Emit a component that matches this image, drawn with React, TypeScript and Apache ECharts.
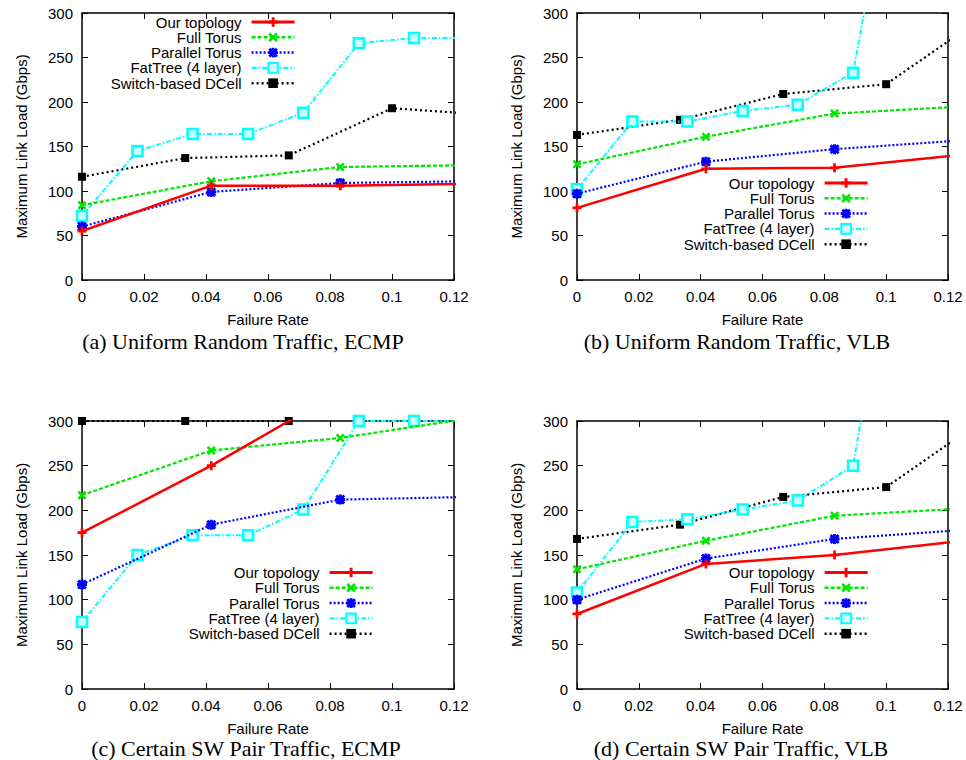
import React, { useEffect, useRef } from 'react';
import * as echarts from 'echarts';

const seriesNames = ['Our topology', 'Full Torus', 'Parallel Torus', 'FatTree (4 layer)', 'Switch-based DCell'];
const captions = [
  '(a) Uniform Random Traffic, ECMP',
  '(b) Uniform Random Traffic, VLB',
  '(c) Certain SW Pair Traffic, ECMP',
  '(d) Certain SW Pair Traffic, VLB',
];
const xTicks = ['0', '0.02', '0.04', '0.06', '0.08', '0.1', '0.12'];

const torusRates = [0, 0.0417, 0.0833, 0.125];
const fatTreeRates = [0, 0.0179, 0.0357, 0.0536, 0.0714, 0.0893, 0.1071, 0.125];
const dcellRates = [0, 0.0333, 0.0667, 0.1, 0.1333];

// (a) Uniform Random Traffic, ECMP
const aOur = [55, 106, 106, 108];
const aFull = [84, 111, 127, 129];
const aPar = [60, 99, 109, 111];
const aFat = [72, 145, 164, 164, 188, 266, 272, 272];
const aDcell = [116, 137, 140, 193, 185];

// (b) Uniform Random Traffic, VLB
const bOur = [81, 125, 126, 141];
const bFull = [130, 161, 187, 195];
const bPar = [97, 133, 147, 157];
const bFat = [102, 178, 178, 190, 197, 233, 570];
const bDcell = [163, 180, 209, 220, 300];

// (c) Certain SW Pair Traffic, ECMP
const cOur = [175, 250, 333];
const cFull = [217, 267, 281, 303];
const cPar = [117, 184, 212, 215];
const cFat = [75, 150, 172, 172, 201, 300, 300, 300];
const cDcell = [300, 300, 300];

// (d) Certain SW Pair Traffic, VLB
const dOur = [84, 140, 150, 166];
const dFull = [134, 166, 194, 202];
const dPar = [100, 146, 168, 178];
const dFat = [108, 187, 190, 201, 211, 250, 606];
const dDcell = [168, 184, 215, 226, 306];

const panels = [
  [aOur, aFull, aPar, aFat, aDcell],
  [bOur, bFull, bPar, bFat, bDcell],
  [cOur, cFull, cPar, cFat, cDcell],
  [dOur, dFull, dPar, dFat, dDcell],
];
const seriesRates = [torusRates, torusRates, torusRates, fatTreeRates, dcellRates];

const grids = [
  { left: 82, top: 13, width: 372, height: 267 },
  { left: 577, top: 13, width: 371, height: 267 },
  { left: 82, top: 421, width: 372, height: 268 },
  { left: 577, top: 421, width: 371, height: 268 },
];
const legendPos = [
  { right: 670, top: 14.5 },
  { right: 97, top: 175.5 },
  { right: 592, top: 565 },
  { right: 97, top: 565 },
];
const captionPos = [
  [243, 341],
  [737, 341],
  [246, 748],
  [741, 748],
];

const PLUS = 'path://M3.5,0h3v3.5h3.5v3h-3.5v3.5h-3v-3.5h-3.5v-3h3.5z';
const CROSS = 'path://M2,0L5,3L8,0L10,2L7,5L10,8L8,10L5,7L2,10L0,8L3,5L0,2z';
const STAR = 'path://M3.5,0h3v3.5h3.5v3h-3.5v3.5h-3v-3.5h-3.5v-3h3.5z M2,0L5,3L8,0L10,2L7,5L10,8L8,10L5,7L2,10L0,8L3,5L0,2z';

const styles = [
  { color: '#ff0000', width: 2.5, type: 'solid' as any, symbol: PLUS, size: 9, fill: '#ff0000', border: 0 },
  { color: '#00e600', width: 2.2, type: [4, 2], symbol: CROSS, size: 9, fill: '#00e600', border: 0 },
  { color: '#0000ff', width: 2.2, type: [2, 2], symbol: STAR, size: 10, fill: '#0000ff', border: 0 },
  { color: '#00ffff', width: 2, type: [5, 2, 1.5, 2], symbol: 'rect', size: 10, fill: '#c8ffff', border: 2.5 },
  { color: '#000000', width: 2.2, type: [2, 3], symbol: 'rect', size: 8, fill: '#000000', border: 0 },
];

const FONT = 'Liberation Sans, Arial, Helvetica, sans-serif';

function buildOption() {
  const xAxis: any[] = [];
  const yAxis: any[] = [];
  const series: any[] = [];
  const legend: any[] = [];
  const graphic: any[] = [];
  grids.forEach((g, i) => {
    const tick = { show: true, inside: true, length: 6, lineStyle: { color: '#000', width: 1 } };
    const line = { show: true, onZero: false, lineStyle: { color: '#000', width: 1.5 } };
    xAxis.push({
      type: 'value', gridIndex: i, position: 'bottom', min: 0, max: 0.12, interval: 0.02,
      axisLine: line, axisTick: tick, splitLine: { show: false },
      axisLabel: { color: '#000', fontFamily: FONT, fontSize: 15, margin: 9, formatter: (v: number) => xTicks[Math.round(v / 0.02)] },
      name: 'Failure Rate', nameLocation: 'middle', nameGap: 32,
      nameTextStyle: { color: '#000', fontFamily: FONT, fontSize: 15 },
    });
    xAxis.push({
      type: 'value', gridIndex: i, position: 'top', min: 0, max: 0.12, interval: 0.02,
      axisLine: line, axisTick: tick, splitLine: { show: false }, axisLabel: { show: false },
    });
    yAxis.push({
      type: 'value', gridIndex: i, position: 'left', min: 0, max: 300, interval: 50,
      axisLine: line, axisTick: tick, splitLine: { show: false },
      axisLabel: { color: '#000', fontFamily: FONT, fontSize: 15, margin: 9 },
      name: 'Maximum Link Load (Gbps)', nameLocation: 'middle', nameGap: 53,
      nameTextStyle: { color: '#000', fontFamily: FONT, fontSize: 15 },
    });
    yAxis.push({
      type: 'value', gridIndex: i, position: 'right', min: 0, max: 300, interval: 50,
      axisLine: line, axisTick: tick, splitLine: { show: false }, axisLabel: { show: false },
    });
    panels[i].forEach((vals, k) => {
      const s = styles[k];
      series.push({
        type: 'line', name: seriesNames[k], xAxisIndex: 2 * i, yAxisIndex: 2 * i,
        data: vals.map((v, j) => [seriesRates[k][j], v]),
        clip: true,
        symbol: s.symbol, symbolSize: s.size, showAllSymbol: true,
        lineStyle: { color: s.color, width: s.width, type: s.type },
        itemStyle: { color: s.fill, borderColor: s.color, borderWidth: s.border },
        z: 10 - k,
      });
    });
    legend.push({
      orient: 'vertical', ...legendPos[i], padding: 0, itemGap: 0.3,
      itemWidth: 43, itemHeight: 12, align: 'right',
      data: seriesNames.map((n, k) => ({
        name: n,
        lineStyle: { width: styles[k].width + 0.3, color: styles[k].color, type: styles[k].type },
      })),
      selectedMode: false,
      textStyle: { color: '#000', fontFamily: FONT, fontSize: 15, width: 140, lineHeight: 15, padding: [0, 5, 0, 0] },
    });
    graphic.push({
      type: 'text', x: captionPos[i][0], y: captionPos[i][1],
      style: {
        text: captions[i], fill: '#000', font: '22px "Liberation Serif", "Times New Roman", serif',
        textAlign: 'center', textVerticalAlign: 'middle',
      },
    });
  });
  return {
    animation: false,
    backgroundColor: '#fff',
    grid: grids.map((g) => ({ ...g, containLabel: false })),
    xAxis, yAxis, series, legend, graphic,
  };
}

export default function App() {
  const ref = useRef<HTMLDivElement>(null);
  useEffect(() => {
    if (!ref.current) return;
    const chart = echarts.init(ref.current, undefined, { renderer: 'svg' });
    chart.setOption(buildOption() as any);
    return () => chart.dispose();
  }, []);
  return <div ref={ref} style={{ position: 'fixed', left: 0, top: 0, width: 966, height: 760, background: '#fff' }} />;
}
